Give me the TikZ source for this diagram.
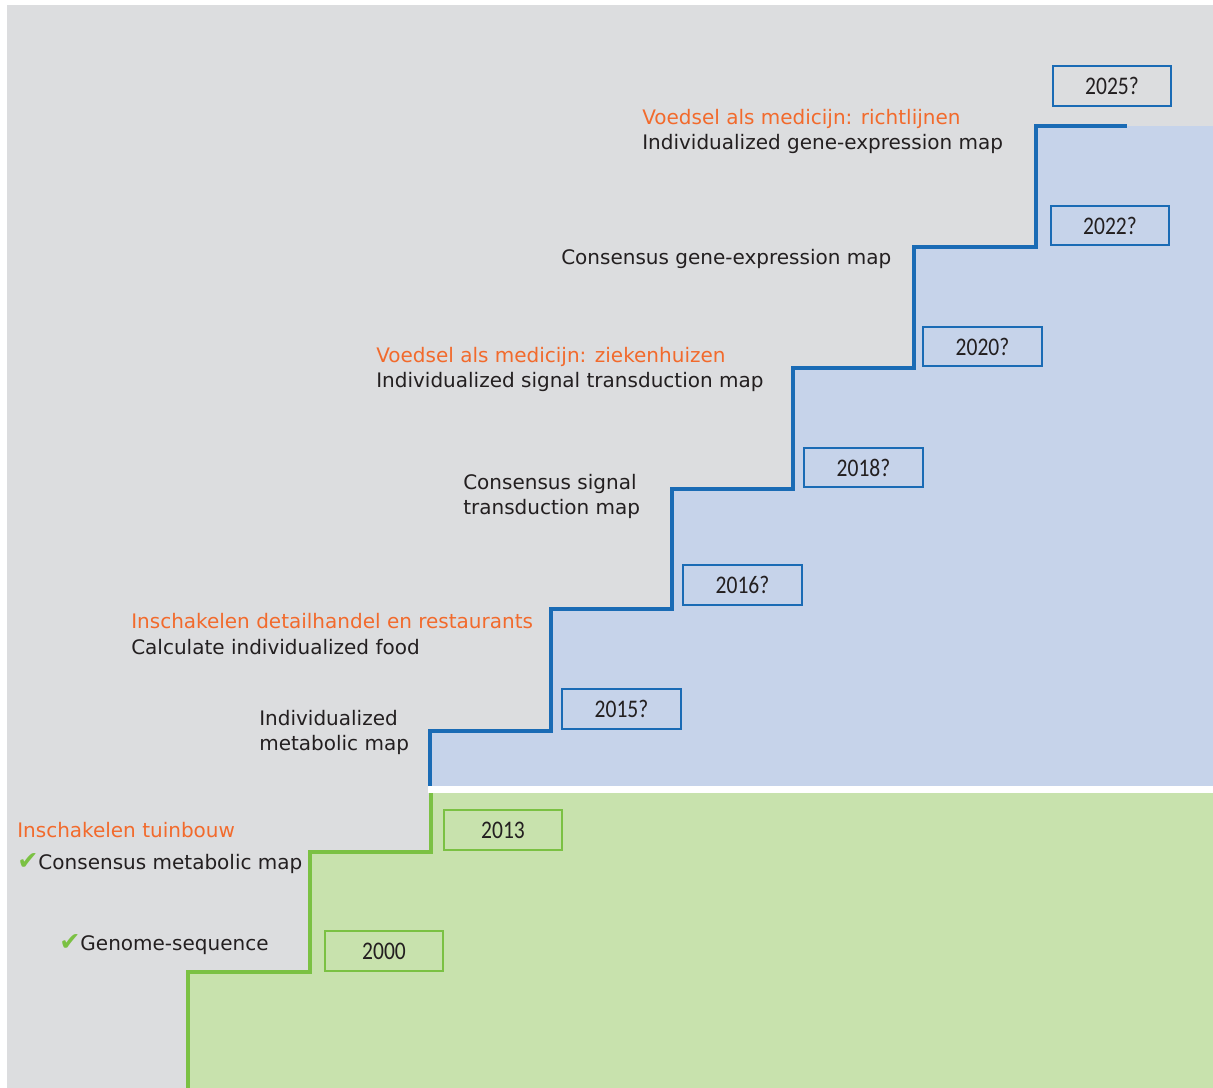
\documentclass[tikz,border=0pt]{standalone}
\usepackage{fontspec}
\setmainfont{DejaVu Sans}
\newfontfamily\yearfont{Carlito}
\newfontfamily\symfont{DejaVu Sans}
\definecolor{bggray}{HTML}{DCDDDF}
\definecolor{bluefill}{HTML}{C6D3EA}
\definecolor{greenfill}{HTML}{C8E2AD}
\definecolor{blueline}{HTML}{1A6BB5}
\definecolor{greenline}{HTML}{7BC143}
\definecolor{orangetxt}{HTML}{F26A2C}
\definecolor{darktxt}{HTML}{231F20}
\tikzset{
  lbl/.style={anchor=base west, inner sep=0pt, text=darktxt, font=\fontsize{15}{18}\selectfont},
  olbl/.style={lbl, text=orangetxt},
  yearbox/.style={draw, line width=1.5pt, minimum width=89pt, minimum height=29.5pt, inner sep=0pt, text=darktxt, font=\yearfont\fontsize{19}{22}\selectfont},
  bluebox/.style={yearbox, draw=blueline},
  greenbox/.style={yearbox, draw=greenline},
  stair/.style={line width=3pt, line cap=butt}
}
\newcommand{\yr}[1]{\scalebox{0.85}[1]{#1}}
\newcommand{\chk}{{\symfont\color{greenline}\fontsize{19}{19}\selectfont ✔}}
\begin{document}
\begin{tikzpicture}[x=0.75pt,y=-0.75pt]
\useasboundingbox (0,0) rectangle (1213,1088);
\fill[white] (0,0) rectangle (1213,1088);
\fill[bggray] (7,5) rectangle (1213,1088);
% blue area
\fill[bluefill] (430,786) -- (430,731) -- (551,731) -- (551,609) -- (672,609) -- (672,489) -- (793,489) -- (793,368) -- (914,368) -- (914,247) -- (1036,247) -- (1036,126) -- (1213,126) -- (1213,786) -- cycle;
\fill[white] (428,786) rectangle (1213,793);
% green area
\fill[greenfill] (431,793) -- (431,852) -- (310,852) -- (310,972) -- (188,972) -- (188,1088) -- (1213,1088) -- (1213,793) -- cycle;
% stairs
\draw[stair, blueline] (430,786) -- (430,731) -- (551,731) -- (551,609) -- (672,609) -- (672,489) -- (793,489) -- (793,368) -- (914,368) -- (914,247) -- (1036,247) -- (1036,126) -- (1127,126);
\draw[stair, greenline] (188,1088) -- (188,972) -- (310,972) -- (310,852) -- (431,852) -- (431,793);
% year boxes
\node[bluebox] (y2025) at (1112,86) {\yr{2025?}};
\node[bluebox] (y2022) at (1110,225.5) {\yr{2022?}};
\node[bluebox] (y2020) at (982.5,346.5) {\yr{2020?}};
\node[bluebox] (y2018) at (863.5,467.5) {\yr{2018?}};
\node[bluebox] (y2016) at (742.5,585) {\yr{2016?}};
\node[bluebox] (y2015) at (621.5,709) {\yr{2015?}};
\node[greenbox] (y2013) at (503,830) {\yr{2013}};
\node[greenbox] (y2000) at (384,951) {\yr{2000}};
% labels
\node[olbl] (o1) at (642,124) {Voedsel als medicijn: richtlijnen};
\node[lbl] (t1) at (642,149) {Individualized gene-expression map};
\node[lbl] (t2) at (561,264) {Consensus gene-expression map};
\node[olbl] (o2) at (376,362) {Voedsel als medicijn: ziekenhuizen};
\node[lbl] (t3) at (376,387) {Individualized signal transduction map};
\node[lbl] (t4a) at (463,489) {Consensus signal};
\node[lbl] (t4b) at (463,514) {transduction map};
\node[olbl] (o3) at (131,628) {Inschakelen detailhandel en restaurants};
\node[lbl] (t5) at (131,654) {Calculate individualized food};
\node[lbl] (t6a) at (259,725) {Individualized};
\node[lbl] (t6b) at (259,750) {metabolic map};
\node[olbl] (o4) at (17,837) {Inschakelen tuinbouw};
\node[lbl] (t7) at (17,869) {\chk Consensus metabolic map};
\node[lbl] (t8) at (59,950) {\chk Genome-sequence};
\end{tikzpicture}
\end{document}
